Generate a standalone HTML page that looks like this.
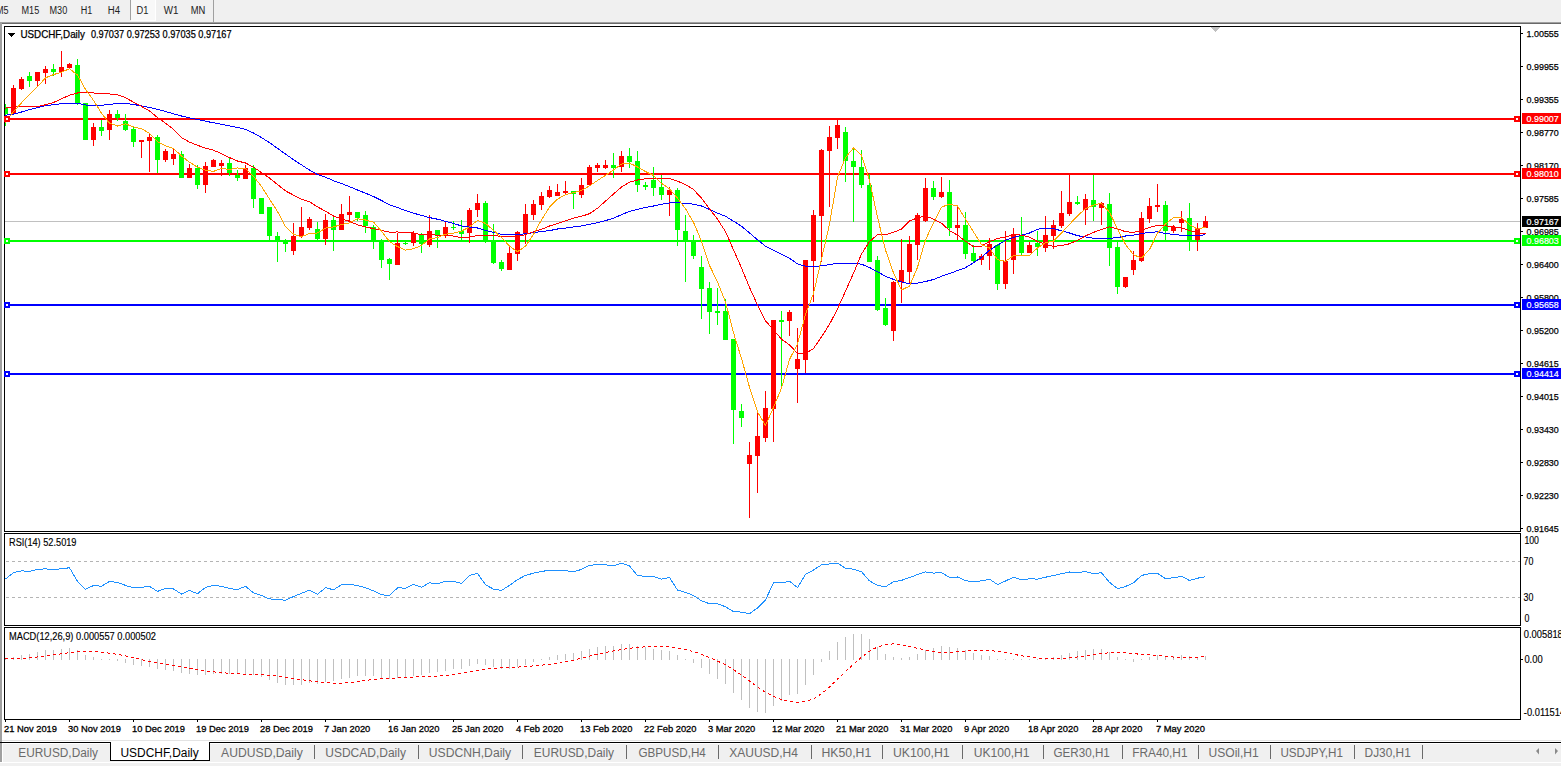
<!DOCTYPE html>
<html><head><meta charset="utf-8"><style>
html,body{margin:0;padding:0;}
body{width:1561px;height:766px;overflow:hidden;background:#f0f0f0;position:relative;font-family:"Liberation Sans",sans-serif;}
.tb{position:absolute;left:0;top:0;width:1561px;height:22px;background:#f0f0f0;}
.tb span{position:absolute;top:5px;font-size:9.6px;color:#1a1a1a;}
</style></head><body>
<div class="tb">
<div style="position:absolute;left:130px;top:0;width:1px;height:20px;background:#a0a0a0"></div>
<div style="position:absolute;left:131px;top:0;width:24px;height:20px;background:#f8f8f8"></div>
<div style="position:absolute;left:131px;top:20px;width:25px;height:1px;background:#fff"></div>
<div style="position:absolute;left:155px;top:0;width:1px;height:20px;background:#fff"></div>
<div style="position:absolute;left:213px;top:0;width:1px;height:22px;background:#a0a0a0"></div>
</div>
<div style="position:absolute;left:0;top:22px;width:1561px;height:1px;background:#a0a0a0"></div>
<div style="position:absolute;left:0;top:23px;width:1561px;height:1px;background:#696969"></div>
<div style="position:absolute;left:0;top:22px;width:2px;height:740px;background:#a0a0a0"></div>
<div style="position:absolute;left:2px;top:24px;width:1559px;height:716px;background:#fff"></div>
<div style="position:absolute;left:2px;top:740px;width:1559px;height:1px;background:#e3e3e3"></div>
<div style="position:absolute;left:2px;top:741px;width:1559px;height:1px;background:#fff"></div>
<div style="position:absolute;left:0;top:742px;width:1561px;height:1px;background:#000"></div>
<div style="position:absolute;left:2px;top:743px;width:1559px;height:1px;background:#fff"></div>
<div style="position:absolute;left:2px;top:743px;width:1px;height:19px;background:#fff"></div>
<div style="position:absolute;left:0;top:743px;width:2px;height:19px;background:#a0a0a0"></div>
<div style="position:absolute;left:0;top:762px;width:1561px;height:1px;background:#fff"></div>
<div style="position:absolute;left:110px;top:742px;width:100px;height:19px;background:#fff;border:1px solid #000;border-top:none;box-sizing:border-box"></div>
<svg style="position:absolute;left:0;top:0" width="1561" height="766" shape-rendering="crispEdges">
<defs><clipPath id="cm"><rect x="5" y="27" width="1515" height="504"/></clipPath><clipPath id="cr"><rect x="5" y="534" width="1515" height="91"/></clipPath><clipPath id="cd"><rect x="5" y="628" width="1515" height="91"/></clipPath></defs>
<g clip-path="url(#cm)">
<rect x="5" y="221" width="1515" height="1" fill="#c0c0c0"/>
<rect x="5" y="118" width="1515" height="2" fill="#ff0000"/>
<rect x="5" y="173" width="1515" height="2" fill="#ff0000"/>
<rect x="5" y="240" width="1515" height="2" fill="#00ff00"/>
<rect x="5" y="304" width="1515" height="2" fill="#0000ff"/>
<rect x="5" y="373" width="1515" height="2" fill="#0000ff"/>
<rect x="5" y="104" width="1" height="22" fill="#00ff00"/>
<rect x="3" y="107" width="5" height="7" fill="#00ff00"/>
<rect x="13" y="85" width="1" height="29" fill="#ff0000"/>
<rect x="11" y="88" width="5" height="26" fill="#ff0000"/>
<rect x="21" y="77" width="1" height="13" fill="#ff0000"/>
<rect x="19" y="79" width="5" height="10" fill="#ff0000"/>
<rect x="29" y="72" width="1" height="15" fill="#00ff00"/>
<rect x="27" y="76" width="5" height="5" fill="#00ff00"/>
<rect x="37" y="72" width="1" height="14" fill="#ff0000"/>
<rect x="35" y="72" width="5" height="9" fill="#ff0000"/>
<rect x="45" y="66" width="1" height="18" fill="#ff0000"/>
<rect x="43" y="69" width="5" height="4" fill="#ff0000"/>
<rect x="53" y="64" width="1" height="12" fill="#00ff00"/>
<rect x="51" y="69" width="5" height="3" fill="#00ff00"/>
<rect x="61" y="51" width="1" height="26" fill="#ff0000"/>
<rect x="59" y="67" width="5" height="5" fill="#ff0000"/>
<rect x="69" y="63" width="1" height="6" fill="#ff0000"/>
<rect x="67" y="64" width="5" height="4" fill="#ff0000"/>
<rect x="77" y="59" width="1" height="46" fill="#00ff00"/>
<rect x="75" y="65" width="5" height="39" fill="#00ff00"/>
<rect x="85" y="103" width="1" height="37" fill="#00ff00"/>
<rect x="83" y="103" width="5" height="37" fill="#00ff00"/>
<rect x="93" y="123" width="1" height="23" fill="#ff0000"/>
<rect x="91" y="127" width="5" height="13" fill="#ff0000"/>
<rect x="101" y="120" width="1" height="16" fill="#00ff00"/>
<rect x="99" y="127" width="5" height="4" fill="#00ff00"/>
<rect x="109" y="110" width="1" height="30" fill="#ff0000"/>
<rect x="107" y="114" width="5" height="16" fill="#ff0000"/>
<rect x="117" y="110" width="1" height="11" fill="#00ff00"/>
<rect x="115" y="114" width="5" height="4" fill="#00ff00"/>
<rect x="125" y="114" width="1" height="17" fill="#00ff00"/>
<rect x="123" y="121" width="5" height="9" fill="#00ff00"/>
<rect x="133" y="126" width="1" height="21" fill="#00ff00"/>
<rect x="131" y="129" width="5" height="13" fill="#00ff00"/>
<rect x="141" y="140" width="1" height="18" fill="#ff0000"/>
<rect x="139" y="140" width="5" height="2" fill="#ff0000"/>
<rect x="149" y="134" width="1" height="38" fill="#ff0000"/>
<rect x="147" y="137" width="5" height="4" fill="#ff0000"/>
<rect x="157" y="135" width="1" height="38" fill="#00ff00"/>
<rect x="155" y="137" width="5" height="23" fill="#00ff00"/>
<rect x="165" y="149" width="1" height="13" fill="#ff0000"/>
<rect x="163" y="151" width="5" height="9" fill="#ff0000"/>
<rect x="173" y="149" width="1" height="16" fill="#ff0000"/>
<rect x="171" y="154" width="5" height="5" fill="#ff0000"/>
<rect x="181" y="151" width="1" height="27" fill="#00ff00"/>
<rect x="179" y="154" width="5" height="24" fill="#00ff00"/>
<rect x="189" y="164" width="1" height="14" fill="#ff0000"/>
<rect x="187" y="168" width="5" height="10" fill="#ff0000"/>
<rect x="197" y="165" width="1" height="24" fill="#00ff00"/>
<rect x="195" y="168" width="5" height="17" fill="#00ff00"/>
<rect x="205" y="162" width="1" height="31" fill="#ff0000"/>
<rect x="203" y="166" width="5" height="19" fill="#ff0000"/>
<rect x="213" y="159" width="1" height="8" fill="#ff0000"/>
<rect x="211" y="160" width="5" height="7" fill="#ff0000"/>
<rect x="221" y="160" width="1" height="16" fill="#ff0000"/>
<rect x="219" y="163" width="5" height="3" fill="#ff0000"/>
<rect x="229" y="158" width="1" height="18" fill="#00ff00"/>
<rect x="227" y="163" width="5" height="10" fill="#00ff00"/>
<rect x="237" y="170" width="1" height="11" fill="#00ff00"/>
<rect x="235" y="175" width="5" height="3" fill="#00ff00"/>
<rect x="245" y="165" width="1" height="14" fill="#ff0000"/>
<rect x="243" y="168" width="5" height="11" fill="#ff0000"/>
<rect x="253" y="165" width="1" height="43" fill="#00ff00"/>
<rect x="251" y="168" width="5" height="31" fill="#00ff00"/>
<rect x="261" y="198" width="1" height="16" fill="#00ff00"/>
<rect x="259" y="198" width="5" height="16" fill="#00ff00"/>
<rect x="269" y="207" width="1" height="33" fill="#00ff00"/>
<rect x="267" y="207" width="5" height="29" fill="#00ff00"/>
<rect x="277" y="232" width="1" height="30" fill="#00ff00"/>
<rect x="275" y="236" width="5" height="5" fill="#00ff00"/>
<rect x="285" y="239" width="1" height="13" fill="#00ff00"/>
<rect x="283" y="241" width="5" height="3" fill="#00ff00"/>
<rect x="293" y="223" width="1" height="32" fill="#ff0000"/>
<rect x="291" y="236" width="5" height="15" fill="#ff0000"/>
<rect x="301" y="207" width="1" height="31" fill="#ff0000"/>
<rect x="299" y="227" width="5" height="9" fill="#ff0000"/>
<rect x="309" y="217" width="1" height="13" fill="#ff0000"/>
<rect x="307" y="219" width="5" height="9" fill="#ff0000"/>
<rect x="317" y="222" width="1" height="18" fill="#00ff00"/>
<rect x="315" y="229" width="5" height="10" fill="#00ff00"/>
<rect x="325" y="214" width="1" height="31" fill="#ff0000"/>
<rect x="323" y="220" width="5" height="19" fill="#ff0000"/>
<rect x="333" y="215" width="1" height="36" fill="#00ff00"/>
<rect x="331" y="220" width="5" height="10" fill="#00ff00"/>
<rect x="341" y="204" width="1" height="26" fill="#ff0000"/>
<rect x="339" y="214" width="5" height="16" fill="#ff0000"/>
<rect x="349" y="196" width="1" height="25" fill="#ff0000"/>
<rect x="347" y="212" width="5" height="3" fill="#ff0000"/>
<rect x="357" y="212" width="1" height="9" fill="#00ff00"/>
<rect x="355" y="212" width="5" height="6" fill="#00ff00"/>
<rect x="365" y="211" width="1" height="22" fill="#00ff00"/>
<rect x="363" y="215" width="5" height="11" fill="#00ff00"/>
<rect x="373" y="225" width="1" height="24" fill="#00ff00"/>
<rect x="371" y="227" width="5" height="13" fill="#00ff00"/>
<rect x="381" y="239" width="1" height="29" fill="#00ff00"/>
<rect x="379" y="240" width="5" height="20" fill="#00ff00"/>
<rect x="389" y="258" width="1" height="22" fill="#00ff00"/>
<rect x="387" y="259" width="5" height="5" fill="#00ff00"/>
<rect x="397" y="233" width="1" height="32" fill="#ff0000"/>
<rect x="395" y="243" width="5" height="22" fill="#ff0000"/>
<rect x="405" y="241" width="1" height="4" fill="#00ff00"/>
<rect x="403" y="243" width="5" height="1" fill="#00ff00"/>
<rect x="413" y="231" width="1" height="15" fill="#ff0000"/>
<rect x="411" y="233" width="5" height="10" fill="#ff0000"/>
<rect x="421" y="233" width="1" height="20" fill="#00ff00"/>
<rect x="419" y="235" width="5" height="9" fill="#00ff00"/>
<rect x="429" y="215" width="1" height="32" fill="#ff0000"/>
<rect x="427" y="231" width="5" height="14" fill="#ff0000"/>
<rect x="437" y="230" width="1" height="18" fill="#00ff00"/>
<rect x="435" y="230" width="5" height="6" fill="#00ff00"/>
<rect x="445" y="222" width="1" height="16" fill="#ff0000"/>
<rect x="443" y="227" width="5" height="8" fill="#ff0000"/>
<rect x="453" y="221" width="1" height="9" fill="#00ff00"/>
<rect x="451" y="227" width="5" height="1" fill="#00ff00"/>
<rect x="461" y="220" width="1" height="20" fill="#00ff00"/>
<rect x="459" y="231" width="5" height="3" fill="#00ff00"/>
<rect x="469" y="208" width="1" height="35" fill="#ff0000"/>
<rect x="467" y="210" width="5" height="23" fill="#ff0000"/>
<rect x="477" y="194" width="1" height="23" fill="#ff0000"/>
<rect x="475" y="203" width="5" height="7" fill="#ff0000"/>
<rect x="485" y="201" width="1" height="42" fill="#00ff00"/>
<rect x="483" y="203" width="5" height="39" fill="#00ff00"/>
<rect x="493" y="224" width="1" height="40" fill="#00ff00"/>
<rect x="491" y="241" width="5" height="22" fill="#00ff00"/>
<rect x="501" y="260" width="1" height="11" fill="#00ff00"/>
<rect x="499" y="262" width="5" height="7" fill="#00ff00"/>
<rect x="509" y="247" width="1" height="23" fill="#ff0000"/>
<rect x="507" y="253" width="5" height="17" fill="#ff0000"/>
<rect x="517" y="231" width="1" height="30" fill="#ff0000"/>
<rect x="515" y="232" width="5" height="22" fill="#ff0000"/>
<rect x="525" y="204" width="1" height="40" fill="#ff0000"/>
<rect x="523" y="214" width="5" height="20" fill="#ff0000"/>
<rect x="533" y="200" width="1" height="20" fill="#ff0000"/>
<rect x="531" y="204" width="5" height="11" fill="#ff0000"/>
<rect x="541" y="192" width="1" height="18" fill="#ff0000"/>
<rect x="539" y="196" width="5" height="9" fill="#ff0000"/>
<rect x="549" y="186" width="1" height="12" fill="#ff0000"/>
<rect x="547" y="190" width="5" height="7" fill="#ff0000"/>
<rect x="557" y="184" width="1" height="12" fill="#ff0000"/>
<rect x="555" y="192" width="5" height="4" fill="#ff0000"/>
<rect x="565" y="181" width="1" height="14" fill="#ff0000"/>
<rect x="563" y="191" width="5" height="2" fill="#ff0000"/>
<rect x="573" y="191" width="1" height="18" fill="#00ff00"/>
<rect x="571" y="191" width="5" height="3" fill="#00ff00"/>
<rect x="581" y="178" width="1" height="20" fill="#ff0000"/>
<rect x="579" y="185" width="5" height="10" fill="#ff0000"/>
<rect x="589" y="165" width="1" height="21" fill="#ff0000"/>
<rect x="587" y="167" width="5" height="18" fill="#ff0000"/>
<rect x="597" y="163" width="1" height="9" fill="#ff0000"/>
<rect x="595" y="165" width="5" height="3" fill="#ff0000"/>
<rect x="605" y="160" width="1" height="9" fill="#ff0000"/>
<rect x="603" y="165" width="5" height="3" fill="#ff0000"/>
<rect x="613" y="153" width="1" height="25" fill="#00ff00"/>
<rect x="611" y="165" width="5" height="3" fill="#00ff00"/>
<rect x="621" y="151" width="1" height="21" fill="#ff0000"/>
<rect x="619" y="156" width="5" height="11" fill="#ff0000"/>
<rect x="629" y="148" width="1" height="20" fill="#00ff00"/>
<rect x="627" y="156" width="5" height="6" fill="#00ff00"/>
<rect x="637" y="151" width="1" height="41" fill="#00ff00"/>
<rect x="635" y="161" width="5" height="24" fill="#00ff00"/>
<rect x="645" y="182" width="1" height="8" fill="#00ff00"/>
<rect x="643" y="185" width="5" height="2" fill="#00ff00"/>
<rect x="653" y="167" width="1" height="29" fill="#00ff00"/>
<rect x="651" y="180" width="5" height="8" fill="#00ff00"/>
<rect x="661" y="175" width="1" height="25" fill="#00ff00"/>
<rect x="659" y="187" width="5" height="8" fill="#00ff00"/>
<rect x="669" y="187" width="1" height="29" fill="#ff0000"/>
<rect x="667" y="190" width="5" height="5" fill="#ff0000"/>
<rect x="677" y="188" width="1" height="58" fill="#00ff00"/>
<rect x="675" y="190" width="5" height="40" fill="#00ff00"/>
<rect x="685" y="215" width="1" height="67" fill="#00ff00"/>
<rect x="683" y="231" width="5" height="10" fill="#00ff00"/>
<rect x="693" y="235" width="1" height="24" fill="#00ff00"/>
<rect x="691" y="241" width="5" height="15" fill="#00ff00"/>
<rect x="701" y="256" width="1" height="63" fill="#00ff00"/>
<rect x="699" y="267" width="5" height="22" fill="#00ff00"/>
<rect x="709" y="282" width="1" height="52" fill="#00ff00"/>
<rect x="707" y="288" width="5" height="24" fill="#00ff00"/>
<rect x="717" y="288" width="1" height="37" fill="#00ff00"/>
<rect x="715" y="311" width="5" height="2" fill="#00ff00"/>
<rect x="725" y="299" width="1" height="41" fill="#00ff00"/>
<rect x="723" y="311" width="5" height="29" fill="#00ff00"/>
<rect x="733" y="339" width="1" height="105" fill="#00ff00"/>
<rect x="731" y="339" width="5" height="71" fill="#00ff00"/>
<rect x="741" y="404" width="1" height="23" fill="#00ff00"/>
<rect x="739" y="411" width="5" height="7" fill="#00ff00"/>
<rect x="749" y="442" width="1" height="76" fill="#ff0000"/>
<rect x="747" y="455" width="5" height="9" fill="#ff0000"/>
<rect x="757" y="413" width="1" height="80" fill="#ff0000"/>
<rect x="755" y="436" width="5" height="20" fill="#ff0000"/>
<rect x="765" y="391" width="1" height="51" fill="#ff0000"/>
<rect x="763" y="408" width="5" height="30" fill="#ff0000"/>
<rect x="773" y="320" width="1" height="122" fill="#ff0000"/>
<rect x="771" y="320" width="5" height="89" fill="#ff0000"/>
<rect x="781" y="311" width="1" height="75" fill="#00ff00"/>
<rect x="779" y="320" width="5" height="2" fill="#00ff00"/>
<rect x="789" y="310" width="1" height="26" fill="#ff0000"/>
<rect x="787" y="312" width="5" height="9" fill="#ff0000"/>
<rect x="797" y="328" width="1" height="75" fill="#ff0000"/>
<rect x="795" y="359" width="5" height="10" fill="#ff0000"/>
<rect x="805" y="260" width="1" height="113" fill="#ff0000"/>
<rect x="803" y="260" width="5" height="100" fill="#ff0000"/>
<rect x="813" y="210" width="1" height="92" fill="#ff0000"/>
<rect x="811" y="215" width="5" height="46" fill="#ff0000"/>
<rect x="821" y="149" width="1" height="113" fill="#ff0000"/>
<rect x="819" y="150" width="5" height="66" fill="#ff0000"/>
<rect x="829" y="126" width="1" height="81" fill="#ff0000"/>
<rect x="827" y="137" width="5" height="14" fill="#ff0000"/>
<rect x="837" y="119" width="1" height="30" fill="#ff0000"/>
<rect x="835" y="125" width="5" height="13" fill="#ff0000"/>
<rect x="845" y="127" width="1" height="55" fill="#00ff00"/>
<rect x="843" y="132" width="5" height="29" fill="#00ff00"/>
<rect x="853" y="148" width="1" height="74" fill="#00ff00"/>
<rect x="851" y="161" width="5" height="6" fill="#00ff00"/>
<rect x="861" y="150" width="1" height="38" fill="#00ff00"/>
<rect x="859" y="167" width="5" height="18" fill="#00ff00"/>
<rect x="869" y="174" width="1" height="88" fill="#00ff00"/>
<rect x="867" y="185" width="5" height="77" fill="#00ff00"/>
<rect x="877" y="256" width="1" height="55" fill="#00ff00"/>
<rect x="875" y="260" width="5" height="50" fill="#00ff00"/>
<rect x="885" y="298" width="1" height="28" fill="#00ff00"/>
<rect x="883" y="308" width="5" height="17" fill="#00ff00"/>
<rect x="893" y="281" width="1" height="60" fill="#ff0000"/>
<rect x="891" y="282" width="5" height="49" fill="#ff0000"/>
<rect x="901" y="239" width="1" height="64" fill="#ff0000"/>
<rect x="899" y="270" width="5" height="12" fill="#ff0000"/>
<rect x="909" y="236" width="1" height="48" fill="#ff0000"/>
<rect x="907" y="244" width="5" height="28" fill="#ff0000"/>
<rect x="917" y="213" width="1" height="47" fill="#ff0000"/>
<rect x="915" y="215" width="5" height="30" fill="#ff0000"/>
<rect x="925" y="178" width="1" height="44" fill="#ff0000"/>
<rect x="923" y="188" width="5" height="33" fill="#ff0000"/>
<rect x="933" y="181" width="1" height="19" fill="#00ff00"/>
<rect x="931" y="188" width="5" height="9" fill="#00ff00"/>
<rect x="941" y="177" width="1" height="21" fill="#ff0000"/>
<rect x="939" y="192" width="5" height="5" fill="#ff0000"/>
<rect x="949" y="180" width="1" height="56" fill="#00ff00"/>
<rect x="947" y="192" width="5" height="36" fill="#00ff00"/>
<rect x="957" y="207" width="1" height="33" fill="#ff0000"/>
<rect x="955" y="225" width="5" height="3" fill="#ff0000"/>
<rect x="965" y="212" width="1" height="47" fill="#00ff00"/>
<rect x="963" y="225" width="5" height="29" fill="#00ff00"/>
<rect x="973" y="245" width="1" height="17" fill="#00ff00"/>
<rect x="971" y="253" width="5" height="8" fill="#00ff00"/>
<rect x="981" y="254" width="1" height="11" fill="#ff0000"/>
<rect x="979" y="256" width="5" height="4" fill="#ff0000"/>
<rect x="989" y="238" width="1" height="32" fill="#ff0000"/>
<rect x="987" y="244" width="5" height="12" fill="#ff0000"/>
<rect x="997" y="244" width="1" height="46" fill="#00ff00"/>
<rect x="995" y="245" width="5" height="39" fill="#00ff00"/>
<rect x="1005" y="231" width="1" height="58" fill="#ff0000"/>
<rect x="1003" y="261" width="5" height="23" fill="#ff0000"/>
<rect x="1013" y="228" width="1" height="46" fill="#ff0000"/>
<rect x="1011" y="234" width="5" height="26" fill="#ff0000"/>
<rect x="1021" y="217" width="1" height="38" fill="#00ff00"/>
<rect x="1019" y="236" width="5" height="17" fill="#00ff00"/>
<rect x="1029" y="242" width="1" height="11" fill="#ff0000"/>
<rect x="1027" y="245" width="5" height="8" fill="#ff0000"/>
<rect x="1037" y="231" width="1" height="25" fill="#00ff00"/>
<rect x="1035" y="243" width="5" height="4" fill="#00ff00"/>
<rect x="1045" y="216" width="1" height="36" fill="#ff0000"/>
<rect x="1043" y="235" width="5" height="13" fill="#ff0000"/>
<rect x="1053" y="220" width="1" height="29" fill="#ff0000"/>
<rect x="1051" y="225" width="5" height="11" fill="#ff0000"/>
<rect x="1061" y="191" width="1" height="37" fill="#ff0000"/>
<rect x="1059" y="213" width="5" height="13" fill="#ff0000"/>
<rect x="1069" y="175" width="1" height="41" fill="#ff0000"/>
<rect x="1067" y="202" width="5" height="12" fill="#ff0000"/>
<rect x="1077" y="196" width="1" height="9" fill="#00ff00"/>
<rect x="1075" y="202" width="5" height="2" fill="#00ff00"/>
<rect x="1085" y="194" width="1" height="31" fill="#ff0000"/>
<rect x="1083" y="199" width="5" height="11" fill="#ff0000"/>
<rect x="1093" y="175" width="1" height="46" fill="#00ff00"/>
<rect x="1091" y="200" width="5" height="7" fill="#00ff00"/>
<rect x="1101" y="202" width="1" height="23" fill="#ff0000"/>
<rect x="1099" y="203" width="5" height="5" fill="#ff0000"/>
<rect x="1109" y="193" width="1" height="73" fill="#00ff00"/>
<rect x="1107" y="204" width="5" height="44" fill="#00ff00"/>
<rect x="1117" y="242" width="1" height="52" fill="#00ff00"/>
<rect x="1115" y="247" width="5" height="40" fill="#00ff00"/>
<rect x="1125" y="277" width="1" height="11" fill="#ff0000"/>
<rect x="1123" y="277" width="5" height="10" fill="#ff0000"/>
<rect x="1133" y="251" width="1" height="24" fill="#ff0000"/>
<rect x="1131" y="260" width="5" height="10" fill="#ff0000"/>
<rect x="1141" y="212" width="1" height="50" fill="#ff0000"/>
<rect x="1139" y="218" width="5" height="43" fill="#ff0000"/>
<rect x="1149" y="198" width="1" height="25" fill="#ff0000"/>
<rect x="1147" y="206" width="5" height="13" fill="#ff0000"/>
<rect x="1157" y="184" width="1" height="28" fill="#ff0000"/>
<rect x="1155" y="205" width="5" height="2" fill="#ff0000"/>
<rect x="1165" y="201" width="1" height="39" fill="#00ff00"/>
<rect x="1163" y="205" width="5" height="26" fill="#00ff00"/>
<rect x="1173" y="225" width="1" height="8" fill="#ff0000"/>
<rect x="1171" y="227" width="5" height="4" fill="#ff0000"/>
<rect x="1181" y="211" width="1" height="21" fill="#ff0000"/>
<rect x="1179" y="219" width="5" height="4" fill="#ff0000"/>
<rect x="1189" y="203" width="1" height="48" fill="#00ff00"/>
<rect x="1187" y="218" width="5" height="22" fill="#00ff00"/>
<rect x="1197" y="223" width="1" height="28" fill="#ff0000"/>
<rect x="1195" y="228" width="5" height="12" fill="#ff0000"/>
<rect x="1205" y="216" width="1" height="12" fill="#ff0000"/>
<rect x="1203" y="221" width="5" height="7" fill="#ff0000"/>
<polyline points="4.5,115.4 13.5,114.2 21.5,112.0 29.5,109.6 37.5,107.6 45.5,105.7 53.5,104.7 61.5,103.7 69.5,103.2 77.5,103.2 85.5,105.0 93.5,105.3 101.5,105.3 109.5,104.4 117.5,103.4 125.5,103.5 133.5,104.4 141.5,106.0 149.5,107.5 157.5,109.3 165.5,111.5 173.5,113.8 181.5,116.0 189.5,117.9 197.5,119.5 205.5,121.2 213.5,122.8 221.5,124.3 229.5,125.9 237.5,127.5 245.5,129.3 253.5,133.0 261.5,137.5 269.5,142.7 277.5,148.3 285.5,154.1 293.5,159.6 301.5,164.9 309.5,170.1 317.5,174.6 325.5,177.2 333.5,180.7 341.5,183.4 349.5,186.7 357.5,190.0 365.5,193.2 373.5,196.5 381.5,200.5 389.5,204.8 397.5,207.5 405.5,210.6 413.5,213.2 421.5,215.4 429.5,217.6 437.5,219.2 445.5,221.3 453.5,223.5 461.5,225.9 469.5,227.1 477.5,228.0 485.5,230.4 493.5,232.5 501.5,234.4 509.5,235.0 517.5,234.7 525.5,233.7 533.5,232.6 541.5,231.6 549.5,230.6 557.5,229.0 565.5,228.1 573.5,226.9 581.5,225.9 589.5,224.4 597.5,222.7 605.5,220.6 613.5,218.2 621.5,214.7 629.5,211.3 637.5,209.4 645.5,207.5 653.5,206.0 661.5,204.3 669.5,203.0 677.5,202.8 685.5,203.3 693.5,204.2 701.5,206.0 709.5,209.4 717.5,213.1 725.5,216.3 733.5,221.2 741.5,226.2 749.5,232.9 757.5,239.7 765.5,246.2 773.5,250.1 781.5,254.3 789.5,258.3 797.5,263.9 805.5,266.2 813.5,266.9 821.5,265.7 829.5,264.7 837.5,263.3 845.5,263.2 853.5,263.2 861.5,264.2 869.5,267.5 877.5,271.7 885.5,276.3 893.5,279.4 901.5,282.0 909.5,283.7 917.5,283.2 925.5,281.5 933.5,279.5 941.5,276.3 949.5,273.5 957.5,270.6 965.5,267.7 973.5,262.7 981.5,257.3 989.5,250.3 997.5,245.2 1005.5,240.3 1013.5,237.5 1021.5,235.2 1029.5,233.0 1037.5,229.2 1045.5,228.4 1053.5,228.7 1061.5,230.8 1069.5,233.0 1077.5,235.7 1085.5,236.9 1093.5,238.3 1101.5,238.9 1109.5,238.4 1117.5,237.6 1125.5,236.0 1133.5,235.2 1141.5,233.5 1149.5,232.3 1157.5,231.9 1165.5,233.4 1173.5,234.4 1181.5,235.3 1189.5,235.7 1197.5,235.8 1205.5,234.7" fill="none" stroke="#0000ff" stroke-width="1" />
<polyline points="4.5,108.2 13.5,107.2 21.5,106.5 29.5,106.5 37.5,106.5 45.5,104.8 53.5,102.5 61.5,98.8 69.5,95.2 77.5,93.0 85.5,92.6 93.5,93.0 101.5,93.4 109.5,94.0 117.5,94.8 125.5,97.7 133.5,102.2 141.5,106.4 149.5,111.0 157.5,117.5 165.5,123.2 173.5,129.4 181.5,137.6 189.5,142.1 197.5,145.3 205.5,148.1 213.5,150.2 221.5,153.7 229.5,157.6 237.5,161.0 245.5,163.0 253.5,167.2 261.5,172.6 269.5,178.1 277.5,184.5 285.5,190.9 293.5,195.1 301.5,199.3 309.5,201.7 317.5,206.9 325.5,211.2 333.5,216.0 341.5,218.9 349.5,221.3 357.5,224.8 365.5,226.8 373.5,228.7 381.5,230.4 389.5,232.1 397.5,232.0 405.5,232.5 413.5,233.0 421.5,234.8 429.5,234.2 437.5,235.3 445.5,235.1 453.5,236.1 461.5,237.7 469.5,237.1 477.5,235.4 485.5,235.6 493.5,235.8 501.5,236.2 509.5,236.9 517.5,236.0 525.5,234.7 533.5,231.8 541.5,229.3 549.5,226.0 557.5,223.5 565.5,220.9 573.5,218.1 581.5,216.3 589.5,213.7 597.5,208.2 605.5,201.2 613.5,194.0 621.5,187.1 629.5,182.1 637.5,180.0 645.5,178.8 653.5,178.2 661.5,178.5 669.5,178.4 677.5,181.2 685.5,184.5 693.5,189.5 701.5,198.2 709.5,208.7 717.5,219.3 725.5,231.6 733.5,249.8 741.5,268.0 749.5,287.3 757.5,305.1 765.5,320.8 773.5,329.8 781.5,339.2 789.5,345.0 797.5,353.4 805.5,353.7 813.5,348.5 821.5,336.9 829.5,324.3 837.5,309.0 845.5,291.1 853.5,273.3 861.5,254.0 869.5,241.6 877.5,234.6 885.5,235.0 893.5,232.2 901.5,229.2 909.5,221.0 917.5,217.8 925.5,215.8 933.5,219.2 941.5,223.2 949.5,230.5 957.5,235.1 965.5,241.2 973.5,246.7 981.5,246.2 989.5,241.5 997.5,238.6 1005.5,237.0 1013.5,234.5 1021.5,235.1 1029.5,237.2 1037.5,241.5 1045.5,244.2 1053.5,246.5 1061.5,245.5 1069.5,243.8 1077.5,240.3 1085.5,235.9 1093.5,232.4 1101.5,229.5 1109.5,226.9 1117.5,228.7 1125.5,231.8 1133.5,232.3 1141.5,230.4 1149.5,227.5 1157.5,225.3 1165.5,225.8 1173.5,226.8 1181.5,228.0 1189.5,230.6 1197.5,232.7 1205.5,233.6" fill="none" stroke="#ff0000" stroke-width="1" />
<polyline points="4.5,123.0 13.5,111.6 21.5,102.8 29.5,94.2 37.5,86.8 45.5,77.8 53.5,74.6 61.5,72.2 69.5,68.7 77.5,75.1 85.5,89.4 93.5,100.4 101.5,113.2 109.5,123.2 117.5,126.0 125.5,123.9 133.5,126.9 141.5,128.7 149.5,133.3 157.5,141.8 165.5,145.9 173.5,148.4 181.5,156.0 189.5,162.2 197.5,167.2 205.5,170.2 213.5,171.4 221.5,168.4 229.5,169.4 237.5,168.0 245.5,168.5 253.5,176.3 261.5,186.4 269.5,199.0 277.5,211.5 285.5,226.7 293.5,234.1 301.5,236.8 309.5,233.4 317.5,233.0 325.5,228.1 333.5,227.0 341.5,224.4 349.5,223.0 357.5,218.7 365.5,220.0 373.5,222.1 381.5,231.2 389.5,241.6 397.5,246.6 405.5,250.1 413.5,248.7 421.5,245.5 429.5,239.0 437.5,237.5 445.5,234.2 453.5,233.2 461.5,231.1 469.5,226.9 477.5,220.4 485.5,223.4 493.5,230.4 501.5,237.4 509.5,246.0 517.5,251.8 525.5,246.2 533.5,234.4 541.5,219.8 549.5,207.2 557.5,199.2 565.5,194.6 573.5,192.7 581.5,190.5 589.5,185.9 597.5,180.5 605.5,175.3 613.5,170.0 621.5,164.1 629.5,163.1 637.5,167.0 645.5,171.5 653.5,175.5 661.5,183.3 669.5,188.9 677.5,198.0 685.5,208.7 693.5,222.3 701.5,241.1 709.5,265.4 717.5,281.9 725.5,301.8 733.5,332.7 741.5,358.5 749.5,387.2 757.5,411.8 765.5,425.4 773.5,407.3 781.5,388.1 789.5,359.4 797.5,344.0 805.5,314.4 813.5,293.5 821.5,259.0 829.5,224.1 837.5,177.3 845.5,157.5 853.5,148.0 861.5,155.1 869.5,180.2 877.5,217.2 885.5,250.0 893.5,273.0 901.5,289.9 909.5,286.2 917.5,267.3 925.5,239.9 933.5,222.8 941.5,207.2 949.5,204.1 957.5,206.0 965.5,219.1 973.5,231.9 981.5,244.6 989.5,248.0 997.5,259.8 1005.5,261.2 1013.5,255.7 1021.5,255.2 1029.5,255.3 1037.5,248.0 1045.5,242.8 1053.5,241.0 1061.5,233.0 1069.5,224.4 1077.5,215.8 1085.5,208.7 1093.5,205.1 1101.5,203.2 1109.5,212.3 1117.5,228.8 1125.5,244.4 1133.5,254.9 1141.5,257.9 1149.5,249.6 1157.5,233.2 1165.5,224.1 1173.5,217.6 1181.5,217.7 1189.5,224.5 1197.5,229.2 1205.5,227.2" fill="none" stroke="#ffa500" stroke-width="1" />
<polygon points="1211,27 1220,27 1215.5,32" fill="#c0c0c0"/>
</g>
<rect x="4.5" y="26.5" width="1516" height="505" fill="none" stroke="#000" stroke-width="1"/>
<rect x="4.5" y="533.5" width="1516" height="92" fill="none" stroke="#000" stroke-width="1"/>
<rect x="4.5" y="627.5" width="1516" height="92" fill="none" stroke="#000" stroke-width="1"/>
<rect x="4" y="116" width="6" height="6" fill="#ff0000"/><rect x="6" y="118" width="2" height="2" fill="#fff"/>
<rect x="1514" y="116" width="6" height="6" fill="#ff0000"/><rect x="1516" y="118" width="2" height="2" fill="#fff"/>
<rect x="4" y="171" width="6" height="6" fill="#ff0000"/><rect x="6" y="173" width="2" height="2" fill="#fff"/>
<rect x="1514" y="171" width="6" height="6" fill="#ff0000"/><rect x="1516" y="173" width="2" height="2" fill="#fff"/>
<rect x="4" y="238" width="6" height="6" fill="#00ff00"/><rect x="6" y="240" width="2" height="2" fill="#fff"/>
<rect x="1514" y="238" width="6" height="6" fill="#00ff00"/><rect x="1516" y="240" width="2" height="2" fill="#fff"/>
<rect x="4" y="302" width="6" height="6" fill="#0000ff"/><rect x="6" y="304" width="2" height="2" fill="#fff"/>
<rect x="1514" y="302" width="6" height="6" fill="#0000ff"/><rect x="1516" y="304" width="2" height="2" fill="#fff"/>
<rect x="4" y="371" width="6" height="6" fill="#0000ff"/><rect x="6" y="373" width="2" height="2" fill="#fff"/>
<rect x="1514" y="371" width="6" height="6" fill="#0000ff"/><rect x="1516" y="373" width="2" height="2" fill="#fff"/>
<rect x="1521" y="33" width="2" height="1" fill="#000"/>
<text x="1526.5" y="37.0" font-size="9.8" font-family="Liberation Sans, sans-serif" textLength="32.3" lengthAdjust="spacingAndGlyphs" fill="#000" stroke="#000" stroke-width="0.25">1.00555</text>
<rect x="1521" y="66" width="2" height="1" fill="#000"/>
<text x="1526.5" y="70.0" font-size="9.8" font-family="Liberation Sans, sans-serif" textLength="32.3" lengthAdjust="spacingAndGlyphs" fill="#000" stroke="#000" stroke-width="0.25">0.99955</text>
<rect x="1521" y="99" width="2" height="1" fill="#000"/>
<text x="1526.5" y="103.0" font-size="9.8" font-family="Liberation Sans, sans-serif" textLength="32.3" lengthAdjust="spacingAndGlyphs" fill="#000" stroke="#000" stroke-width="0.25">0.99355</text>
<rect x="1521" y="132" width="2" height="1" fill="#000"/>
<text x="1526.5" y="136.0" font-size="9.8" font-family="Liberation Sans, sans-serif" textLength="32.3" lengthAdjust="spacingAndGlyphs" fill="#000" stroke="#000" stroke-width="0.25">0.98770</text>
<rect x="1521" y="165" width="2" height="1" fill="#000"/>
<text x="1526.5" y="169.0" font-size="9.8" font-family="Liberation Sans, sans-serif" textLength="32.3" lengthAdjust="spacingAndGlyphs" fill="#000" stroke="#000" stroke-width="0.25">0.98170</text>
<rect x="1521" y="198" width="2" height="1" fill="#000"/>
<text x="1526.5" y="202.0" font-size="9.8" font-family="Liberation Sans, sans-serif" textLength="32.3" lengthAdjust="spacingAndGlyphs" fill="#000" stroke="#000" stroke-width="0.25">0.97585</text>
<rect x="1521" y="231" width="2" height="1" fill="#000"/>
<text x="1526.5" y="235.0" font-size="9.8" font-family="Liberation Sans, sans-serif" textLength="32.3" lengthAdjust="spacingAndGlyphs" fill="#000" stroke="#000" stroke-width="0.25">0.96985</text>
<rect x="1521" y="264" width="2" height="1" fill="#000"/>
<text x="1526.5" y="268.0" font-size="9.8" font-family="Liberation Sans, sans-serif" textLength="32.3" lengthAdjust="spacingAndGlyphs" fill="#000" stroke="#000" stroke-width="0.25">0.96400</text>
<rect x="1521" y="297" width="2" height="1" fill="#000"/>
<text x="1526.5" y="301.0" font-size="9.8" font-family="Liberation Sans, sans-serif" textLength="32.3" lengthAdjust="spacingAndGlyphs" fill="#000" stroke="#000" stroke-width="0.25">0.95800</text>
<rect x="1521" y="330" width="2" height="1" fill="#000"/>
<text x="1526.5" y="334.0" font-size="9.8" font-family="Liberation Sans, sans-serif" textLength="32.3" lengthAdjust="spacingAndGlyphs" fill="#000" stroke="#000" stroke-width="0.25">0.95200</text>
<rect x="1521" y="363" width="2" height="1" fill="#000"/>
<text x="1526.5" y="367.0" font-size="9.8" font-family="Liberation Sans, sans-serif" textLength="32.3" lengthAdjust="spacingAndGlyphs" fill="#000" stroke="#000" stroke-width="0.25">0.94615</text>
<rect x="1521" y="396" width="2" height="1" fill="#000"/>
<text x="1526.5" y="400.0" font-size="9.8" font-family="Liberation Sans, sans-serif" textLength="32.3" lengthAdjust="spacingAndGlyphs" fill="#000" stroke="#000" stroke-width="0.25">0.94015</text>
<rect x="1521" y="429" width="2" height="1" fill="#000"/>
<text x="1526.5" y="433.0" font-size="9.8" font-family="Liberation Sans, sans-serif" textLength="32.3" lengthAdjust="spacingAndGlyphs" fill="#000" stroke="#000" stroke-width="0.25">0.93430</text>
<rect x="1521" y="462" width="2" height="1" fill="#000"/>
<text x="1526.5" y="466.0" font-size="9.8" font-family="Liberation Sans, sans-serif" textLength="32.3" lengthAdjust="spacingAndGlyphs" fill="#000" stroke="#000" stroke-width="0.25">0.92830</text>
<rect x="1521" y="495" width="2" height="1" fill="#000"/>
<text x="1526.5" y="499.0" font-size="9.8" font-family="Liberation Sans, sans-serif" textLength="32.3" lengthAdjust="spacingAndGlyphs" fill="#000" stroke="#000" stroke-width="0.25">0.92230</text>
<rect x="1521" y="528" width="2" height="1" fill="#000"/>
<text x="1526.5" y="532.0" font-size="9.8" font-family="Liberation Sans, sans-serif" textLength="32.3" lengthAdjust="spacingAndGlyphs" fill="#000" stroke="#000" stroke-width="0.25">0.91645</text>
<rect x="1522" y="113" width="39" height="11" fill="#ff0000"/>
<text x="1526.5" y="122.0" font-size="9.8" font-family="Liberation Sans, sans-serif" textLength="32.3" lengthAdjust="spacingAndGlyphs" fill="#fff" stroke="#fff" stroke-width="0.20">0.99007</text>
<rect x="1522" y="168" width="39" height="11" fill="#ff0000"/>
<text x="1526.5" y="177.0" font-size="9.8" font-family="Liberation Sans, sans-serif" textLength="32.3" lengthAdjust="spacingAndGlyphs" fill="#fff" stroke="#fff" stroke-width="0.20">0.98010</text>
<rect x="1522" y="216" width="39" height="11" fill="#000000"/>
<text x="1526.5" y="225.0" font-size="9.8" font-family="Liberation Sans, sans-serif" textLength="32.3" lengthAdjust="spacingAndGlyphs" fill="#fff" stroke="#fff" stroke-width="0.20">0.97167</text>
<rect x="1522" y="235" width="39" height="11" fill="#00ff00"/>
<text x="1526.5" y="244.0" font-size="9.8" font-family="Liberation Sans, sans-serif" textLength="32.3" lengthAdjust="spacingAndGlyphs" fill="#fff" stroke="#fff" stroke-width="0.20">0.96803</text>
<rect x="1522" y="299" width="39" height="11" fill="#0000ff"/>
<text x="1526.5" y="308.0" font-size="9.8" font-family="Liberation Sans, sans-serif" textLength="32.3" lengthAdjust="spacingAndGlyphs" fill="#fff" stroke="#fff" stroke-width="0.20">0.95658</text>
<rect x="1522" y="368" width="39" height="11" fill="#0000ff"/>
<text x="1526.5" y="377.0" font-size="9.8" font-family="Liberation Sans, sans-serif" textLength="32.3" lengthAdjust="spacingAndGlyphs" fill="#fff" stroke="#fff" stroke-width="0.20">0.94414</text>
<polygon points="8,33 15,33 11.5,37" fill="#000"/>
<text x="20.4" y="38.3" font-size="10.5" font-family="Liberation Sans, sans-serif" textLength="64.5" lengthAdjust="spacingAndGlyphs" fill="#000" stroke="#000" stroke-width="0.25">USDCHF,Daily</text>
<text x="90.9" y="38.3" font-size="10.5" font-family="Liberation Sans, sans-serif" textLength="140.7" lengthAdjust="spacingAndGlyphs" fill="#000" stroke="#000" stroke-width="0.25">0.97037 0.97253 0.97035 0.97167</text>
<g clip-path="url(#cr)">
<line x1="6" y1="561.5" x2="1520" y2="561.5" stroke="#b4b4b4" stroke-dasharray="3 3"/>
<line x1="6" y1="597.5" x2="1520" y2="597.5" stroke="#b4b4b4" stroke-dasharray="3 3"/>
<polyline points="5.5,579.0 13.5,572.7 21.5,570.8 29.5,571.5 37.5,569.4 45.5,568.8 53.5,569.9 61.5,568.6 69.5,567.8 77.5,581.3 85.5,589.3 93.5,585.5 101.5,586.3 109.5,581.5 117.5,582.4 125.5,585.4 133.5,587.9 141.5,587.3 149.5,586.3 157.5,591.4 165.5,588.3 173.5,589.0 181.5,594.0 189.5,590.4 197.5,593.7 205.5,587.4 213.5,585.5 221.5,586.2 229.5,588.5 237.5,589.7 245.5,586.2 253.5,592.9 261.5,595.5 269.5,598.9 277.5,599.6 285.5,600.2 293.5,596.6 301.5,593.3 309.5,590.2 317.5,594.3 325.5,587.7 333.5,589.8 341.5,584.7 349.5,584.1 357.5,585.6 365.5,587.7 373.5,590.9 381.5,594.8 389.5,595.5 397.5,587.9 405.5,588.1 413.5,584.4 421.5,587.2 429.5,582.8 437.5,584.0 445.5,581.1 453.5,581.4 461.5,583.3 469.5,575.4 477.5,573.4 485.5,584.7 493.5,589.2 501.5,590.4 509.5,585.4 517.5,579.6 525.5,575.4 533.5,573.2 541.5,571.5 549.5,570.2 557.5,570.8 565.5,570.6 573.5,571.8 581.5,569.4 589.5,565.2 597.5,564.8 605.5,564.8 613.5,566.0 621.5,563.1 629.5,565.9 637.5,575.5 645.5,576.4 653.5,576.5 661.5,579.2 669.5,577.5 677.5,590.1 685.5,592.4 693.5,595.5 701.5,600.8 709.5,603.7 717.5,603.9 725.5,606.7 733.5,611.7 741.5,612.1 749.5,613.8 757.5,607.9 765.5,600.1 773.5,582.7 781.5,583.0 789.5,581.3 797.5,587.5 805.5,574.4 813.5,570.0 821.5,564.9 829.5,563.9 837.5,563.1 845.5,568.3 853.5,569.2 861.5,571.7 869.5,580.9 877.5,585.5 885.5,586.8 893.5,581.8 901.5,580.4 909.5,577.5 917.5,574.6 925.5,571.9 933.5,573.1 941.5,572.6 949.5,577.4 957.5,577.0 965.5,580.7 973.5,581.7 981.5,580.9 989.5,579.2 997.5,584.5 1005.5,581.0 1013.5,577.2 1021.5,579.9 1029.5,578.8 1037.5,579.1 1045.5,577.2 1053.5,575.6 1061.5,573.7 1069.5,572.0 1077.5,572.5 1085.5,571.7 1093.5,573.6 1101.5,572.8 1109.5,582.3 1117.5,588.6 1125.5,586.5 1133.5,582.9 1141.5,575.5 1149.5,573.6 1157.5,573.4 1165.5,578.6 1173.5,577.8 1181.5,576.3 1189.5,580.5 1197.5,578.2 1205.5,576.7" fill="none" stroke="#1e90ff" stroke-width="1" />
</g>
<text x="9.0" y="546.0" font-size="10.5" font-family="Liberation Sans, sans-serif" textLength="67.5" lengthAdjust="spacingAndGlyphs" fill="#000" stroke="#000" stroke-width="0.15">RSI(14) 52.5019</text>
<text x="1524.4" y="543.5" font-size="10.3" font-family="Liberation Sans, sans-serif" textLength="14.6" lengthAdjust="spacingAndGlyphs" fill="#000" stroke="#000" stroke-width="0.15">100</text>
<text x="1523.5" y="565.0" font-size="10.3" font-family="Liberation Sans, sans-serif" textLength="9.9" lengthAdjust="spacingAndGlyphs" fill="#000" stroke="#000" stroke-width="0.15">70</text>
<text x="1523.5" y="601.0" font-size="10.3" font-family="Liberation Sans, sans-serif" textLength="9.9" lengthAdjust="spacingAndGlyphs" fill="#000" stroke="#000" stroke-width="0.15">30</text>
<text x="1524.4" y="622.0" font-size="10.3" font-family="Liberation Sans, sans-serif" textLength="4.9" lengthAdjust="spacingAndGlyphs" fill="#000" stroke="#000" stroke-width="0.15">0</text>
<g clip-path="url(#cd)">
<rect x="5" y="659" width="1" height="1" fill="#c0c0c0"/>
<rect x="13" y="657" width="1" height="3" fill="#c0c0c0"/>
<rect x="21" y="655" width="1" height="5" fill="#c0c0c0"/>
<rect x="29" y="654" width="1" height="6" fill="#c0c0c0"/>
<rect x="37" y="652" width="1" height="8" fill="#c0c0c0"/>
<rect x="45" y="650" width="1" height="10" fill="#c0c0c0"/>
<rect x="53" y="650" width="1" height="10" fill="#c0c0c0"/>
<rect x="61" y="649" width="1" height="11" fill="#c0c0c0"/>
<rect x="69" y="648" width="1" height="12" fill="#c0c0c0"/>
<rect x="77" y="650" width="1" height="10" fill="#c0c0c0"/>
<rect x="85" y="655" width="1" height="5" fill="#c0c0c0"/>
<rect x="93" y="657" width="1" height="3" fill="#c0c0c0"/>
<rect x="101" y="659" width="1" height="1" fill="#c0c0c0"/>
<rect x="109" y="659" width="1" height="1" fill="#c0c0c0"/>
<rect x="117" y="659" width="1" height="2" fill="#c0c0c0"/>
<rect x="125" y="659" width="1" height="4" fill="#c0c0c0"/>
<rect x="133" y="659" width="1" height="6" fill="#c0c0c0"/>
<rect x="141" y="659" width="1" height="7" fill="#c0c0c0"/>
<rect x="149" y="659" width="1" height="8" fill="#c0c0c0"/>
<rect x="157" y="659" width="1" height="10" fill="#c0c0c0"/>
<rect x="165" y="659" width="1" height="11" fill="#c0c0c0"/>
<rect x="173" y="659" width="1" height="12" fill="#c0c0c0"/>
<rect x="181" y="659" width="1" height="14" fill="#c0c0c0"/>
<rect x="189" y="659" width="1" height="15" fill="#c0c0c0"/>
<rect x="197" y="659" width="1" height="16" fill="#c0c0c0"/>
<rect x="205" y="659" width="1" height="16" fill="#c0c0c0"/>
<rect x="213" y="659" width="1" height="15" fill="#c0c0c0"/>
<rect x="221" y="659" width="1" height="15" fill="#c0c0c0"/>
<rect x="229" y="659" width="1" height="15" fill="#c0c0c0"/>
<rect x="237" y="659" width="1" height="15" fill="#c0c0c0"/>
<rect x="245" y="659" width="1" height="15" fill="#c0c0c0"/>
<rect x="253" y="659" width="1" height="16" fill="#c0c0c0"/>
<rect x="261" y="659" width="1" height="18" fill="#c0c0c0"/>
<rect x="269" y="659" width="1" height="21" fill="#c0c0c0"/>
<rect x="277" y="659" width="1" height="24" fill="#c0c0c0"/>
<rect x="285" y="659" width="1" height="26" fill="#c0c0c0"/>
<rect x="293" y="659" width="1" height="26" fill="#c0c0c0"/>
<rect x="301" y="659" width="1" height="26" fill="#c0c0c0"/>
<rect x="309" y="659" width="1" height="24" fill="#c0c0c0"/>
<rect x="317" y="659" width="1" height="25" fill="#c0c0c0"/>
<rect x="325" y="659" width="1" height="23" fill="#c0c0c0"/>
<rect x="333" y="659" width="1" height="22" fill="#c0c0c0"/>
<rect x="341" y="659" width="1" height="20" fill="#c0c0c0"/>
<rect x="349" y="659" width="1" height="19" fill="#c0c0c0"/>
<rect x="357" y="659" width="1" height="17" fill="#c0c0c0"/>
<rect x="365" y="659" width="1" height="17" fill="#c0c0c0"/>
<rect x="373" y="659" width="1" height="17" fill="#c0c0c0"/>
<rect x="381" y="659" width="1" height="19" fill="#c0c0c0"/>
<rect x="389" y="659" width="1" height="20" fill="#c0c0c0"/>
<rect x="397" y="659" width="1" height="19" fill="#c0c0c0"/>
<rect x="405" y="659" width="1" height="18" fill="#c0c0c0"/>
<rect x="413" y="659" width="1" height="17" fill="#c0c0c0"/>
<rect x="421" y="659" width="1" height="16" fill="#c0c0c0"/>
<rect x="429" y="659" width="1" height="14" fill="#c0c0c0"/>
<rect x="437" y="659" width="1" height="13" fill="#c0c0c0"/>
<rect x="445" y="659" width="1" height="12" fill="#c0c0c0"/>
<rect x="453" y="659" width="1" height="10" fill="#c0c0c0"/>
<rect x="461" y="659" width="1" height="10" fill="#c0c0c0"/>
<rect x="469" y="659" width="1" height="7" fill="#c0c0c0"/>
<rect x="477" y="659" width="1" height="5" fill="#c0c0c0"/>
<rect x="485" y="659" width="1" height="6" fill="#c0c0c0"/>
<rect x="493" y="659" width="1" height="8" fill="#c0c0c0"/>
<rect x="501" y="659" width="1" height="10" fill="#c0c0c0"/>
<rect x="509" y="659" width="1" height="10" fill="#c0c0c0"/>
<rect x="517" y="659" width="1" height="8" fill="#c0c0c0"/>
<rect x="525" y="659" width="1" height="6" fill="#c0c0c0"/>
<rect x="533" y="659" width="1" height="3" fill="#c0c0c0"/>
<rect x="541" y="659" width="1" height="1" fill="#c0c0c0"/>
<rect x="549" y="657" width="1" height="3" fill="#c0c0c0"/>
<rect x="557" y="655" width="1" height="5" fill="#c0c0c0"/>
<rect x="565" y="654" width="1" height="6" fill="#c0c0c0"/>
<rect x="573" y="653" width="1" height="7" fill="#c0c0c0"/>
<rect x="581" y="651" width="1" height="9" fill="#c0c0c0"/>
<rect x="589" y="649" width="1" height="11" fill="#c0c0c0"/>
<rect x="597" y="647" width="1" height="13" fill="#c0c0c0"/>
<rect x="605" y="646" width="1" height="14" fill="#c0c0c0"/>
<rect x="613" y="646" width="1" height="14" fill="#c0c0c0"/>
<rect x="621" y="644" width="1" height="16" fill="#c0c0c0"/>
<rect x="629" y="644" width="1" height="16" fill="#c0c0c0"/>
<rect x="637" y="646" width="1" height="14" fill="#c0c0c0"/>
<rect x="645" y="647" width="1" height="13" fill="#c0c0c0"/>
<rect x="653" y="649" width="1" height="11" fill="#c0c0c0"/>
<rect x="661" y="650" width="1" height="10" fill="#c0c0c0"/>
<rect x="669" y="651" width="1" height="9" fill="#c0c0c0"/>
<rect x="677" y="655" width="1" height="5" fill="#c0c0c0"/>
<rect x="685" y="659" width="1" height="1" fill="#c0c0c0"/>
<rect x="693" y="659" width="1" height="4" fill="#c0c0c0"/>
<rect x="701" y="659" width="1" height="9" fill="#c0c0c0"/>
<rect x="709" y="659" width="1" height="15" fill="#c0c0c0"/>
<rect x="717" y="659" width="1" height="20" fill="#c0c0c0"/>
<rect x="725" y="659" width="1" height="25" fill="#c0c0c0"/>
<rect x="733" y="659" width="1" height="34" fill="#c0c0c0"/>
<rect x="741" y="659" width="1" height="41" fill="#c0c0c0"/>
<rect x="749" y="659" width="1" height="49" fill="#c0c0c0"/>
<rect x="757" y="659" width="1" height="53" fill="#c0c0c0"/>
<rect x="765" y="659" width="1" height="54" fill="#c0c0c0"/>
<rect x="773" y="659" width="1" height="47" fill="#c0c0c0"/>
<rect x="781" y="659" width="1" height="42" fill="#c0c0c0"/>
<rect x="789" y="659" width="1" height="36" fill="#c0c0c0"/>
<rect x="797" y="659" width="1" height="35" fill="#c0c0c0"/>
<rect x="805" y="659" width="1" height="26" fill="#c0c0c0"/>
<rect x="813" y="659" width="1" height="16" fill="#c0c0c0"/>
<rect x="821" y="659" width="1" height="3" fill="#c0c0c0"/>
<rect x="829" y="651" width="1" height="9" fill="#c0c0c0"/>
<rect x="837" y="642" width="1" height="18" fill="#c0c0c0"/>
<rect x="845" y="637" width="1" height="23" fill="#c0c0c0"/>
<rect x="853" y="634" width="1" height="26" fill="#c0c0c0"/>
<rect x="861" y="634" width="1" height="26" fill="#c0c0c0"/>
<rect x="869" y="639" width="1" height="21" fill="#c0c0c0"/>
<rect x="877" y="647" width="1" height="13" fill="#c0c0c0"/>
<rect x="885" y="654" width="1" height="6" fill="#c0c0c0"/>
<rect x="893" y="657" width="1" height="3" fill="#c0c0c0"/>
<rect x="901" y="658" width="1" height="2" fill="#c0c0c0"/>
<rect x="909" y="657" width="1" height="3" fill="#c0c0c0"/>
<rect x="917" y="654" width="1" height="6" fill="#c0c0c0"/>
<rect x="925" y="650" width="1" height="10" fill="#c0c0c0"/>
<rect x="933" y="648" width="1" height="12" fill="#c0c0c0"/>
<rect x="941" y="646" width="1" height="14" fill="#c0c0c0"/>
<rect x="949" y="647" width="1" height="13" fill="#c0c0c0"/>
<rect x="957" y="648" width="1" height="12" fill="#c0c0c0"/>
<rect x="965" y="650" width="1" height="10" fill="#c0c0c0"/>
<rect x="973" y="653" width="1" height="7" fill="#c0c0c0"/>
<rect x="981" y="655" width="1" height="5" fill="#c0c0c0"/>
<rect x="989" y="656" width="1" height="4" fill="#c0c0c0"/>
<rect x="997" y="659" width="1" height="1" fill="#c0c0c0"/>
<rect x="1005" y="659" width="1" height="1" fill="#c0c0c0"/>
<rect x="1013" y="659" width="1" height="1" fill="#c0c0c0"/>
<rect x="1021" y="659" width="1" height="1" fill="#c0c0c0"/>
<rect x="1029" y="659" width="1" height="1" fill="#c0c0c0"/>
<rect x="1037" y="659" width="1" height="1" fill="#c0c0c0"/>
<rect x="1045" y="659" width="1" height="1" fill="#c0c0c0"/>
<rect x="1053" y="657" width="1" height="3" fill="#c0c0c0"/>
<rect x="1061" y="655" width="1" height="5" fill="#c0c0c0"/>
<rect x="1069" y="653" width="1" height="7" fill="#c0c0c0"/>
<rect x="1077" y="651" width="1" height="9" fill="#c0c0c0"/>
<rect x="1085" y="650" width="1" height="10" fill="#c0c0c0"/>
<rect x="1093" y="649" width="1" height="11" fill="#c0c0c0"/>
<rect x="1101" y="649" width="1" height="11" fill="#c0c0c0"/>
<rect x="1109" y="652" width="1" height="8" fill="#c0c0c0"/>
<rect x="1117" y="657" width="1" height="3" fill="#c0c0c0"/>
<rect x="1125" y="659" width="1" height="1" fill="#c0c0c0"/>
<rect x="1133" y="659" width="1" height="3" fill="#c0c0c0"/>
<rect x="1141" y="659" width="1" height="1" fill="#c0c0c0"/>
<rect x="1149" y="657" width="1" height="3" fill="#c0c0c0"/>
<rect x="1157" y="655" width="1" height="5" fill="#c0c0c0"/>
<rect x="1165" y="656" width="1" height="4" fill="#c0c0c0"/>
<rect x="1173" y="656" width="1" height="4" fill="#c0c0c0"/>
<rect x="1181" y="655" width="1" height="5" fill="#c0c0c0"/>
<rect x="1189" y="656" width="1" height="4" fill="#c0c0c0"/>
<rect x="1197" y="657" width="1" height="3" fill="#c0c0c0"/>
<rect x="1205" y="656" width="1" height="4" fill="#c0c0c0"/>
<polyline points="5.5,659.0 13.5,658.8 21.5,658.4 29.5,657.8 37.5,657.0 45.5,656.0 53.5,655.0 61.5,653.8 69.5,652.6 77.5,651.6 85.5,651.3 93.5,651.6 101.5,652.3 109.5,653.2 117.5,654.4 125.5,655.9 133.5,657.6 141.5,659.7 149.5,661.5 157.5,663.0 165.5,664.4 173.5,665.6 181.5,667.0 189.5,668.4 197.5,669.8 205.5,671.0 213.5,671.9 221.5,672.7 229.5,673.3 237.5,673.8 245.5,674.1 253.5,674.4 261.5,674.8 269.5,675.3 277.5,676.2 285.5,677.3 293.5,678.5 301.5,679.7 309.5,680.8 317.5,681.9 325.5,682.7 333.5,683.1 341.5,683.1 349.5,682.5 357.5,681.6 365.5,680.5 373.5,679.5 381.5,678.9 389.5,678.3 397.5,677.9 405.5,677.4 413.5,677.0 421.5,676.7 429.5,676.4 437.5,676.0 445.5,675.4 453.5,674.5 461.5,673.4 469.5,672.1 477.5,670.6 485.5,669.3 493.5,668.4 501.5,667.9 509.5,667.5 517.5,667.1 525.5,666.6 533.5,665.9 541.5,665.2 549.5,664.4 557.5,663.4 565.5,661.9 573.5,660.2 581.5,658.2 589.5,656.2 597.5,654.3 605.5,652.5 613.5,650.9 621.5,649.5 629.5,648.3 637.5,647.4 645.5,646.8 653.5,646.5 661.5,646.6 669.5,647.0 677.5,648.0 685.5,649.5 693.5,651.6 701.5,654.3 709.5,657.5 717.5,661.0 725.5,664.9 733.5,669.7 741.5,675.1 749.5,681.0 757.5,686.8 765.5,692.4 773.5,696.5 781.5,699.5 789.5,701.3 797.5,702.4 805.5,701.6 813.5,698.8 821.5,693.8 829.5,687.0 837.5,679.2 845.5,671.5 853.5,664.2 861.5,657.3 869.5,651.2 877.5,646.9 885.5,644.6 893.5,643.9 901.5,644.7 909.5,646.4 917.5,648.3 925.5,650.1 933.5,651.7 941.5,652.4 949.5,652.5 957.5,651.7 965.5,651.0 973.5,650.5 981.5,650.3 989.5,650.5 997.5,651.4 1005.5,652.8 1013.5,654.3 1021.5,655.7 1029.5,657.0 1037.5,658.0 1045.5,658.6 1053.5,658.8 1061.5,658.7 1069.5,658.0 1077.5,657.0 1085.5,656.0 1093.5,654.8 1101.5,653.6 1109.5,652.8 1117.5,652.6 1125.5,652.9 1133.5,653.6 1141.5,654.4 1149.5,655.0 1157.5,655.6 1165.5,656.3 1173.5,657.1 1181.5,657.5 1189.5,657.5 1197.5,657.1 1205.5,656.5" fill="none" stroke="#ff0000" stroke-width="1" stroke-dasharray="3 3"/>
</g>
<text x="9.0" y="640.0" font-size="10.5" font-family="Liberation Sans, sans-serif" textLength="147.0" lengthAdjust="spacingAndGlyphs" fill="#000" stroke="#000" stroke-width="0.15">MACD(12,26,9) 0.000557 0.000502</text>
<text x="1523.8" y="638.0" font-size="10.3" font-family="Liberation Sans, sans-serif" textLength="39.0" lengthAdjust="spacingAndGlyphs" fill="#000" stroke="#000" stroke-width="0.15">0.005818</text>
<rect x="1521" y="659" width="2" height="1" fill="#000"/>
<text x="1524.4" y="663.0" font-size="10.3" font-family="Liberation Sans, sans-serif" textLength="18.2" lengthAdjust="spacingAndGlyphs" fill="#000" stroke="#000" stroke-width="0.15">0.00</text>
<text x="1523.8" y="716.0" font-size="10.3" font-family="Liberation Sans, sans-serif" textLength="41.4" lengthAdjust="spacingAndGlyphs" fill="#000" stroke="#000" stroke-width="0.15">-0.011514</text>
<rect x="5" y="720" width="1" height="2" fill="#000"/>
<text x="4.0" y="732.0" font-size="9.6" font-family="Liberation Sans, sans-serif" textLength="53.0" lengthAdjust="spacingAndGlyphs" fill="#000" stroke="#000" stroke-width="0.30">21 Nov 2019</text>
<rect x="69" y="720" width="1" height="2" fill="#000"/>
<text x="68.0" y="732.0" font-size="9.6" font-family="Liberation Sans, sans-serif" textLength="53.0" lengthAdjust="spacingAndGlyphs" fill="#000" stroke="#000" stroke-width="0.30">30 Nov 2019</text>
<rect x="133" y="720" width="1" height="2" fill="#000"/>
<text x="132.0" y="732.0" font-size="9.6" font-family="Liberation Sans, sans-serif" textLength="53.0" lengthAdjust="spacingAndGlyphs" fill="#000" stroke="#000" stroke-width="0.30">10 Dec 2019</text>
<rect x="197" y="720" width="1" height="2" fill="#000"/>
<text x="196.0" y="732.0" font-size="9.6" font-family="Liberation Sans, sans-serif" textLength="53.0" lengthAdjust="spacingAndGlyphs" fill="#000" stroke="#000" stroke-width="0.30">19 Dec 2019</text>
<rect x="261" y="720" width="1" height="2" fill="#000"/>
<text x="260.0" y="732.0" font-size="9.6" font-family="Liberation Sans, sans-serif" textLength="53.0" lengthAdjust="spacingAndGlyphs" fill="#000" stroke="#000" stroke-width="0.30">28 Dec 2019</text>
<rect x="325" y="720" width="1" height="2" fill="#000"/>
<text x="324.0" y="732.0" font-size="9.6" font-family="Liberation Sans, sans-serif" textLength="46.3" lengthAdjust="spacingAndGlyphs" fill="#000" stroke="#000" stroke-width="0.30">7 Jan 2020</text>
<rect x="389" y="720" width="1" height="2" fill="#000"/>
<text x="388.0" y="732.0" font-size="9.6" font-family="Liberation Sans, sans-serif" textLength="51.5" lengthAdjust="spacingAndGlyphs" fill="#000" stroke="#000" stroke-width="0.30">16 Jan 2020</text>
<rect x="453" y="720" width="1" height="2" fill="#000"/>
<text x="452.0" y="732.0" font-size="9.6" font-family="Liberation Sans, sans-serif" textLength="51.5" lengthAdjust="spacingAndGlyphs" fill="#000" stroke="#000" stroke-width="0.30">25 Jan 2020</text>
<rect x="517" y="720" width="1" height="2" fill="#000"/>
<text x="516.0" y="732.0" font-size="9.6" font-family="Liberation Sans, sans-serif" textLength="47.3" lengthAdjust="spacingAndGlyphs" fill="#000" stroke="#000" stroke-width="0.30">4 Feb 2020</text>
<rect x="581" y="720" width="1" height="2" fill="#000"/>
<text x="580.0" y="732.0" font-size="9.6" font-family="Liberation Sans, sans-serif" textLength="52.5" lengthAdjust="spacingAndGlyphs" fill="#000" stroke="#000" stroke-width="0.30">13 Feb 2020</text>
<rect x="645" y="720" width="1" height="2" fill="#000"/>
<text x="644.0" y="732.0" font-size="9.6" font-family="Liberation Sans, sans-serif" textLength="52.5" lengthAdjust="spacingAndGlyphs" fill="#000" stroke="#000" stroke-width="0.30">22 Feb 2020</text>
<rect x="709" y="720" width="1" height="2" fill="#000"/>
<text x="708.0" y="732.0" font-size="9.6" font-family="Liberation Sans, sans-serif" textLength="47.3" lengthAdjust="spacingAndGlyphs" fill="#000" stroke="#000" stroke-width="0.30">3 Mar 2020</text>
<rect x="773" y="720" width="1" height="2" fill="#000"/>
<text x="772.0" y="732.0" font-size="9.6" font-family="Liberation Sans, sans-serif" textLength="52.5" lengthAdjust="spacingAndGlyphs" fill="#000" stroke="#000" stroke-width="0.30">12 Mar 2020</text>
<rect x="837" y="720" width="1" height="2" fill="#000"/>
<text x="836.0" y="732.0" font-size="9.6" font-family="Liberation Sans, sans-serif" textLength="52.5" lengthAdjust="spacingAndGlyphs" fill="#000" stroke="#000" stroke-width="0.30">21 Mar 2020</text>
<rect x="901" y="720" width="1" height="2" fill="#000"/>
<text x="900.0" y="732.0" font-size="9.6" font-family="Liberation Sans, sans-serif" textLength="52.5" lengthAdjust="spacingAndGlyphs" fill="#000" stroke="#000" stroke-width="0.30">31 Mar 2020</text>
<rect x="965" y="720" width="1" height="2" fill="#000"/>
<text x="964.0" y="732.0" font-size="9.6" font-family="Liberation Sans, sans-serif" textLength="45.2" lengthAdjust="spacingAndGlyphs" fill="#000" stroke="#000" stroke-width="0.30">9 Apr 2020</text>
<rect x="1029" y="720" width="1" height="2" fill="#000"/>
<text x="1028.0" y="732.0" font-size="9.6" font-family="Liberation Sans, sans-serif" textLength="50.4" lengthAdjust="spacingAndGlyphs" fill="#000" stroke="#000" stroke-width="0.30">18 Apr 2020</text>
<rect x="1093" y="720" width="1" height="2" fill="#000"/>
<text x="1092.0" y="732.0" font-size="9.6" font-family="Liberation Sans, sans-serif" textLength="50.4" lengthAdjust="spacingAndGlyphs" fill="#000" stroke="#000" stroke-width="0.30">28 Apr 2020</text>
<rect x="1157" y="720" width="1" height="2" fill="#000"/>
<text x="1156.0" y="732.0" font-size="9.6" font-family="Liberation Sans, sans-serif" textLength="48.9" lengthAdjust="spacingAndGlyphs" fill="#000" stroke="#000" stroke-width="0.30">7 May 2020</text>
<text x="18.3" y="757.0" font-size="12.0" font-family="Liberation Sans, sans-serif" textLength="79.7" lengthAdjust="spacingAndGlyphs" fill="#6a6a6a" stroke="#6a6a6a" stroke-width="0.00">EURUSD,Daily</text>
<text x="120.5" y="757.0" font-size="12.0" font-family="Liberation Sans, sans-serif" textLength="78.2" lengthAdjust="spacingAndGlyphs" fill="#000" stroke="#000" stroke-width="0.00">USDCHF,Daily</text>
<text x="221.1" y="757.0" font-size="12.0" font-family="Liberation Sans, sans-serif" textLength="81.7" lengthAdjust="spacingAndGlyphs" fill="#6a6a6a" stroke="#6a6a6a" stroke-width="0.00">AUDUSD,Daily</text>
<text x="325.3" y="757.0" font-size="12.0" font-family="Liberation Sans, sans-serif" textLength="80.6" lengthAdjust="spacingAndGlyphs" fill="#6a6a6a" stroke="#6a6a6a" stroke-width="0.00">USDCAD,Daily</text>
<text x="428.8" y="757.0" font-size="12.0" font-family="Liberation Sans, sans-serif" textLength="82.3" lengthAdjust="spacingAndGlyphs" fill="#6a6a6a" stroke="#6a6a6a" stroke-width="0.00">USDCNH,Daily</text>
<text x="533.8" y="757.0" font-size="12.0" font-family="Liberation Sans, sans-serif" textLength="80.3" lengthAdjust="spacingAndGlyphs" fill="#6a6a6a" stroke="#6a6a6a" stroke-width="0.00">EURUSD,Daily</text>
<text x="638.5" y="757.0" font-size="12.0" font-family="Liberation Sans, sans-serif" textLength="67.3" lengthAdjust="spacingAndGlyphs" fill="#6a6a6a" stroke="#6a6a6a" stroke-width="0.00">GBPUSD,H4</text>
<text x="729.2" y="757.0" font-size="12.0" font-family="Liberation Sans, sans-serif" textLength="68.8" lengthAdjust="spacingAndGlyphs" fill="#6a6a6a" stroke="#6a6a6a" stroke-width="0.00">XAUUSD,H4</text>
<text x="821.5" y="757.0" font-size="12.0" font-family="Liberation Sans, sans-serif" textLength="49.7" lengthAdjust="spacingAndGlyphs" fill="#6a6a6a" stroke="#6a6a6a" stroke-width="0.00">HK50,H1</text>
<text x="893.0" y="757.0" font-size="12.0" font-family="Liberation Sans, sans-serif" textLength="56.6" lengthAdjust="spacingAndGlyphs" fill="#6a6a6a" stroke="#6a6a6a" stroke-width="0.00">UK100,H1</text>
<text x="973.7" y="757.0" font-size="12.0" font-family="Liberation Sans, sans-serif" textLength="55.9" lengthAdjust="spacingAndGlyphs" fill="#6a6a6a" stroke="#6a6a6a" stroke-width="0.00">UK100,H1</text>
<text x="1053.5" y="757.0" font-size="12.0" font-family="Liberation Sans, sans-serif" textLength="56.3" lengthAdjust="spacingAndGlyphs" fill="#6a6a6a" stroke="#6a6a6a" stroke-width="0.00">GER30,H1</text>
<text x="1132.3" y="757.0" font-size="12.0" font-family="Liberation Sans, sans-serif" textLength="55.2" lengthAdjust="spacingAndGlyphs" fill="#6a6a6a" stroke="#6a6a6a" stroke-width="0.00">FRA40,H1</text>
<text x="1208.5" y="757.0" font-size="12.0" font-family="Liberation Sans, sans-serif" textLength="50.3" lengthAdjust="spacingAndGlyphs" fill="#6a6a6a" stroke="#6a6a6a" stroke-width="0.00">USOil,H1</text>
<text x="1280.4" y="757.0" font-size="12.0" font-family="Liberation Sans, sans-serif" textLength="62.6" lengthAdjust="spacingAndGlyphs" fill="#6a6a6a" stroke="#6a6a6a" stroke-width="0.00">USDJPY,H1</text>
<text x="1364.6" y="757.0" font-size="12.0" font-family="Liberation Sans, sans-serif" textLength="46.2" lengthAdjust="spacingAndGlyphs" fill="#6a6a6a" stroke="#6a6a6a" stroke-width="0.00">DJ30,H1</text>
<rect x="314" y="745" width="1" height="14" fill="#6a6a6a"/>
<rect x="418" y="745" width="1" height="14" fill="#6a6a6a"/>
<rect x="522" y="745" width="1" height="14" fill="#6a6a6a"/>
<rect x="626" y="745" width="1" height="14" fill="#6a6a6a"/>
<rect x="718" y="745" width="1" height="14" fill="#6a6a6a"/>
<rect x="811" y="745" width="1" height="14" fill="#6a6a6a"/>
<rect x="882" y="745" width="1" height="14" fill="#6a6a6a"/>
<rect x="962" y="745" width="1" height="14" fill="#6a6a6a"/>
<rect x="1043" y="745" width="1" height="14" fill="#6a6a6a"/>
<rect x="1122" y="745" width="1" height="14" fill="#6a6a6a"/>
<rect x="1198" y="745" width="1" height="14" fill="#6a6a6a"/>
<rect x="1270" y="745" width="1" height="14" fill="#6a6a6a"/>
<rect x="1354" y="745" width="1" height="14" fill="#6a6a6a"/>
<rect x="1422" y="745" width="1" height="14" fill="#6a6a6a"/>
<polygon points="1536,751 1539,748 1539,754.5" fill="#8a8a8a" shape-rendering="auto"/>
<polygon points="1555,748 1558,751 1555,754.5" fill="#8a8a8a" shape-rendering="auto"/>
<text x="-4.1" y="14.0" font-size="10.0" font-family="Liberation Sans, sans-serif" textLength="12.6" lengthAdjust="spacingAndGlyphs" fill="#222" stroke="#222" stroke-width="0.00">M5</text>
<text x="21.5" y="14.0" font-size="10.0" font-family="Liberation Sans, sans-serif" textLength="17.7" lengthAdjust="spacingAndGlyphs" fill="#222" stroke="#222" stroke-width="0.00">M15</text>
<text x="49.5" y="14.0" font-size="10.0" font-family="Liberation Sans, sans-serif" textLength="17.7" lengthAdjust="spacingAndGlyphs" fill="#222" stroke="#222" stroke-width="0.00">M30</text>
<text x="80.8" y="14.0" font-size="10.0" font-family="Liberation Sans, sans-serif" textLength="11.5" lengthAdjust="spacingAndGlyphs" fill="#222" stroke="#222" stroke-width="0.00">H1</text>
<text x="107.7" y="14.0" font-size="10.0" font-family="Liberation Sans, sans-serif" textLength="12.3" lengthAdjust="spacingAndGlyphs" fill="#222" stroke="#222" stroke-width="0.00">H4</text>
<text x="136.6" y="14.0" font-size="10.0" font-family="Liberation Sans, sans-serif" textLength="11.9" lengthAdjust="spacingAndGlyphs" fill="#222" stroke="#222" stroke-width="0.00">D1</text>
<text x="163.8" y="14.0" font-size="10.0" font-family="Liberation Sans, sans-serif" textLength="14.7" lengthAdjust="spacingAndGlyphs" fill="#222" stroke="#222" stroke-width="0.00">W1</text>
<text x="190.8" y="14.0" font-size="10.0" font-family="Liberation Sans, sans-serif" textLength="14.6" lengthAdjust="spacingAndGlyphs" fill="#222" stroke="#222" stroke-width="0.00">MN</text>
</svg>
</body></html>
